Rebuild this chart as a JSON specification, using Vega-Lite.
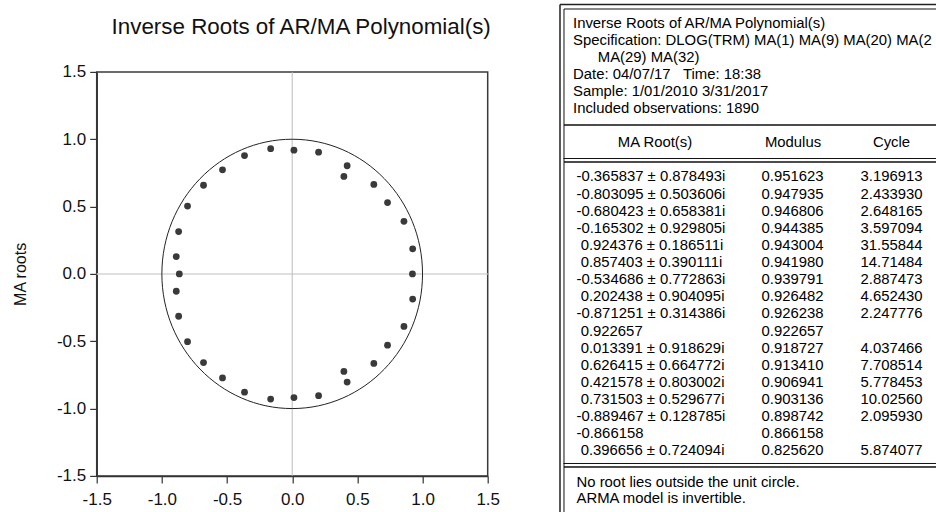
{
  "$schema": "https://vega.github.io/schema/vega-lite/v6.json",
  "background": "white",
  "padding": {"left": 10.7, "top": 2.5, "right": 0, "bottom": 0},
  "spacing": 57.8,
  "config": {
    "font": "Liberation Sans",
    "locale": {"number": {"decimal": ".", "thousands": ",", "grouping": [3], "currency": ["$", ""], "minus": "-"}},
    "text": {"font": "Liberation Sans", "fontSize": 14.9, "color": "#000"}
  },
  "datasets": {
    "points": [
      {"re": -0.365837, "im": 0.878493}, {"re": -0.365837, "im": -0.878493},
      {"re": -0.803095, "im": 0.503606}, {"re": -0.803095, "im": -0.503606},
      {"re": -0.680423, "im": 0.658381}, {"re": -0.680423, "im": -0.658381},
      {"re": -0.165302, "im": 0.929805}, {"re": -0.165302, "im": -0.929805},
      {"re": 0.924376, "im": 0.186511}, {"re": 0.924376, "im": -0.186511},
      {"re": 0.857403, "im": 0.390111}, {"re": 0.857403, "im": -0.390111},
      {"re": -0.534686, "im": 0.772863}, {"re": -0.534686, "im": -0.772863},
      {"re": 0.202438, "im": 0.904095}, {"re": 0.202438, "im": -0.904095},
      {"re": -0.871251, "im": 0.314386}, {"re": -0.871251, "im": -0.314386},
      {"re": 0.922657, "im": 0},
      {"re": 0.013391, "im": 0.918629}, {"re": 0.013391, "im": -0.918629},
      {"re": 0.626415, "im": 0.664772}, {"re": 0.626415, "im": -0.664772},
      {"re": 0.421578, "im": 0.803002}, {"re": 0.421578, "im": -0.803002},
      {"re": 0.731503, "im": 0.529677}, {"re": 0.731503, "im": -0.529677},
      {"re": -0.889467, "im": 0.128785}, {"re": -0.889467, "im": -0.128785},
      {"re": -0.866158, "im": 0},
      {"re": 0.396656, "im": 0.724094}, {"re": 0.396656, "im": -0.724094}
    ],
    "info": [
      {"line": 1, "text": "Inverse Roots of AR/MA Polynomial(s)"},
      {"line": 2, "text": "Specification: DLOG(TRM) MA(1) MA(9) MA(20) MA(2"},
      {"line": 3, "text": "\u200b\u00a0\u00a0\u00a0\u00a0\u00a0\u00a0MA(29) MA(32)"},
      {"line": 4, "text": "Date: 04/07/17\u00a0\u00a0\u00a0Time: 18:38"},
      {"line": 5, "text": "Sample: 1/01/2010 3/31/2017"},
      {"line": 6, "text": "Included observations: 1890"}
    ],
    "heads": [
      {"col": "root", "text": "MA Root(s)"},
      {"col": "modulus", "text": "Modulus"},
      {"col": "cycle", "text": "Cycle"}
    ],
    "roots": [
      {"row": 1, "root": "-0.365837 ± 0.878493i", "modulus": "0.951623", "cycle": "3.196913"},
      {"row": 2, "root": "-0.803095 ± 0.503606i", "modulus": "0.947935", "cycle": "2.433930"},
      {"row": 3, "root": "-0.680423 ± 0.658381i", "modulus": "0.946806", "cycle": "2.648165"},
      {"row": 4, "root": "-0.165302 ± 0.929805i", "modulus": "0.944385", "cycle": "3.597094"},
      {"row": 5, "root": "\u200b\u00a00.924376 ± 0.186511i", "modulus": "0.943004", "cycle": "31.55844"},
      {"row": 6, "root": "\u200b\u00a00.857403 ± 0.390111i", "modulus": "0.941980", "cycle": "14.71484"},
      {"row": 7, "root": "-0.534686 ± 0.772863i", "modulus": "0.939791", "cycle": "2.887473"},
      {"row": 8, "root": "\u200b\u00a00.202438 ± 0.904095i", "modulus": "0.926482", "cycle": "4.652430"},
      {"row": 9, "root": "-0.871251 ± 0.314386i", "modulus": "0.926238", "cycle": "2.247776"},
      {"row": 10, "root": "\u200b\u00a00.922657", "modulus": "0.922657", "cycle": ""},
      {"row": 11, "root": "\u200b\u00a00.013391 ± 0.918629i", "modulus": "0.918727", "cycle": "4.037466"},
      {"row": 12, "root": "\u200b\u00a00.626415 ± 0.664772i", "modulus": "0.913410", "cycle": "7.708514"},
      {"row": 13, "root": "\u200b\u00a00.421578 ± 0.803002i", "modulus": "0.906941", "cycle": "5.778453"},
      {"row": 14, "root": "\u200b\u00a00.731503 ± 0.529677i", "modulus": "0.903136", "cycle": "10.02560"},
      {"row": 15, "root": "-0.889467 ± 0.128785i", "modulus": "0.898742", "cycle": "2.095930"},
      {"row": 16, "root": "-0.866158", "modulus": "0.866158", "cycle": ""},
      {"row": 17, "root": "\u200b\u00a00.396656 ± 0.724094i", "modulus": "0.825620", "cycle": "5.874077"}
    ],
    "notes": [
      {"line": 1, "text": "No root lies outside the unit circle."},
      {"line": 2, "text": "ARMA model is invertible."}
    ]
  },
  "hconcat": [
    {
      "spacing": 17.4,
      "vconcat": [
        {
          "width": 391,
          "height": 36,
          "view": {"stroke": null},
          "data": {"values": [{"title": "Inverse Roots of AR/MA Polynomial(s)"}]},
          "mark": {"type": "text", "fontSize": 22.4, "font": "Liberation Sans", "color": "#111", "align": "center", "baseline": "middle", "dx": 9},
          "encoding": {"text": {"field": "title"}}
        },
        {
          "width": 391,
          "height": 404,
          "view": {"stroke": "#3a3a3a", "strokeWidth": 1.5},
          "data": {"name": "points"},
          "layer": [
            {
              "data": {"values": [{}]},
              "mark": {"type": "rule", "stroke": "#d4d4d4", "strokeWidth": 1.5},
              "encoding": {"y": {"datum": 0, "type": "quantitative"}}
            },
            {
              "data": {"values": [{}]},
              "mark": {"type": "rule", "stroke": "#bdbdbd", "strokeWidth": 1},
              "encoding": {"x": {"datum": 0, "type": "quantitative"}}
            },
            {
              "data": {"values": [{"re": 0, "im": 0}]},
              "mark": {
                "type": "point",
                "shape": "M0.9678,0C0.9678,0.5523,0.5345,1,0,1C-0.5345,1,-0.9678,0.5523,-0.9678,0C-0.9678,-0.5523,-0.5345,-1,0,-1C0.5345,-1,0.9678,-0.5523,0.9678,0Z",
                "size": 72540,
                "filled": false,
                "stroke": "#222",
                "strokeWidth": 1,
                "opacity": 1
              },
              "encoding": {
                "x": {"field": "re", "type": "quantitative"},
                "y": {"field": "im", "type": "quantitative"}
              }
            },
            {
              "mark": {"type": "point", "shape": "circle", "filled": true, "size": 46, "color": "#3a3a3a", "opacity": 1},
              "encoding": {
                "x": {
                  "field": "re", "type": "quantitative",
                  "scale": {"domain": [-1.5, 1.5], "nice": false, "zero": false},
                  "axis": {
                    "title": null, "values": [-1.5, -1, -0.5, 0, 0.5, 1, 1.5], "format": ".1f",
                    "grid": false, "labelFontSize": 17, "labelFont": "Liberation Sans", "labelColor": "#111",
                    "tickSize": 7, "tickColor": "#333", "tickWidth": 1.2, "labelPadding": 8.5,
                    "domainColor": "#333", "domainWidth": 1.5, "labelFlush": false
                  }
                },
                "y": {
                  "field": "im", "type": "quantitative",
                  "scale": {"domain": [-1.5, 1.5], "nice": false, "zero": false},
                  "axis": {
                    "title": "MA roots", "titleFontSize": 16, "titleFont": "Liberation Sans", "titleFontWeight": "normal",
                    "titleColor": "#111", "titlePadding": 28,
                    "values": [-1.5, -1, -0.5, 0, 0.5, 1, 1.5], "format": ".1f",
                    "grid": false, "labelFontSize": 17, "labelFont": "Liberation Sans", "labelColor": "#111",
                    "tickSize": 7, "tickColor": "#333", "tickWidth": 1.2, "labelPadding": 4,
                    "domainColor": "#333", "domainWidth": 1.5, "labelFlush": false
                  }
                }
              }
            }
          ]
        }
      ]
    },
    {
      "spacing": 0,
      "bounds": "flush",
      "vconcat": [
        {
          "width": 380,
          "height": 116,
          "view": {"stroke": "#111", "strokeWidth": 1},
          "layer": [
            {
              "data": {"name": "info"},
              "mark": {"type": "text", "align": "left", "baseline": "middle"},
              "encoding": {
                "x": {"value": 9.5},
                "y": {"field": "line", "type": "ordinal", "axis": null, "scale": {"type": "point", "padding": 0.88, "align": 0.5}},
                "text": {"field": "text"}
              }
            },
            {
              "data": {"values": [{}]},
              "mark": {"type": "rule", "stroke": "#222", "strokeWidth": 1.5},
              "encoding": {"x": {"value": -3.5}, "y": {"value": -4}, "y2": {"value": 520}}
            },
            {
              "data": {"values": [{}]},
              "mark": {"type": "rule", "stroke": "#222", "strokeWidth": 1.5},
              "encoding": {"x": {"value": -3.5}, "x2": {"value": 380}, "y": {"value": -4}}
            }
          ]
        },
        {
          "width": 380,
          "height": 37,
          "view": {"stroke": "#111", "strokeWidth": 1},
          "data": {"name": "heads"},
          "layer": [
            {
              "transform": [{"filter": "datum.col == 'root'"}],
              "mark": {"type": "text", "align": "center", "baseline": "middle"},
              "encoding": {"x": {"value": 91.5}, "text": {"field": "text"}}
            },
            {
              "transform": [{"filter": "datum.col == 'modulus'"}],
              "mark": {"type": "text", "align": "center", "baseline": "middle"},
              "encoding": {"x": {"value": 229.5}, "text": {"field": "text"}}
            },
            {
              "transform": [{"filter": "datum.col == 'cycle'"}],
              "mark": {"type": "text", "align": "center", "baseline": "middle"},
              "encoding": {"x": {"value": 328}, "text": {"field": "text"}}
            },
            {
              "data": {"values": [{}]},
              "mark": {"type": "rule", "stroke": "#111", "strokeWidth": 1},
              "encoding": {"x": {"value": 0}, "x2": {"value": 380}, "y": {"value": 34}}
            }
          ]
        },
        {
          "width": 380,
          "height": 305,
          "view": {"stroke": "#111", "strokeWidth": 1},
          "data": {"name": "roots"},
          "layer": [
            {
              "mark": {"type": "text", "align": "left", "baseline": "middle"},
              "encoding": {
                "x": {"value": 13},
                "y": {"field": "row", "type": "ordinal", "axis": null, "scale": {"type": "point", "padding": 0.905, "align": 0.516}},
                "text": {"field": "root"}
              }
            },
            {
              "mark": {"type": "text", "align": "left", "baseline": "middle"},
              "encoding": {
                "x": {"value": 198},
                "y": {"field": "row", "type": "ordinal", "axis": null},
                "text": {"field": "modulus"}
              }
            },
            {
              "mark": {"type": "text", "align": "left", "baseline": "middle"},
              "encoding": {
                "x": {"value": 297},
                "y": {"field": "row", "type": "ordinal", "axis": null},
                "text": {"field": "cycle"}
              }
            },
            {
              "data": {"values": [{}]},
              "mark": {"type": "rule", "stroke": "#111", "strokeWidth": 1},
              "encoding": {"x": {"value": 0}, "x2": {"value": 380}, "y": {"value": 302}}
            }
          ]
        },
        {
          "width": 380,
          "height": 50,
          "view": {"stroke": "#111", "strokeWidth": 1},
          "layer": [
            {
              "data": {"name": "notes"},
              "mark": {"type": "text", "align": "left", "baseline": "middle"},
              "encoding": {
                "x": {"value": 13},
                "y": {"field": "line", "type": "ordinal", "axis": null, "scale": {"type": "point", "padding": 1.167, "align": 0.486}},
                "text": {"field": "text"}
              }
            }
          ]
        }
      ]
    }
  ]
}
